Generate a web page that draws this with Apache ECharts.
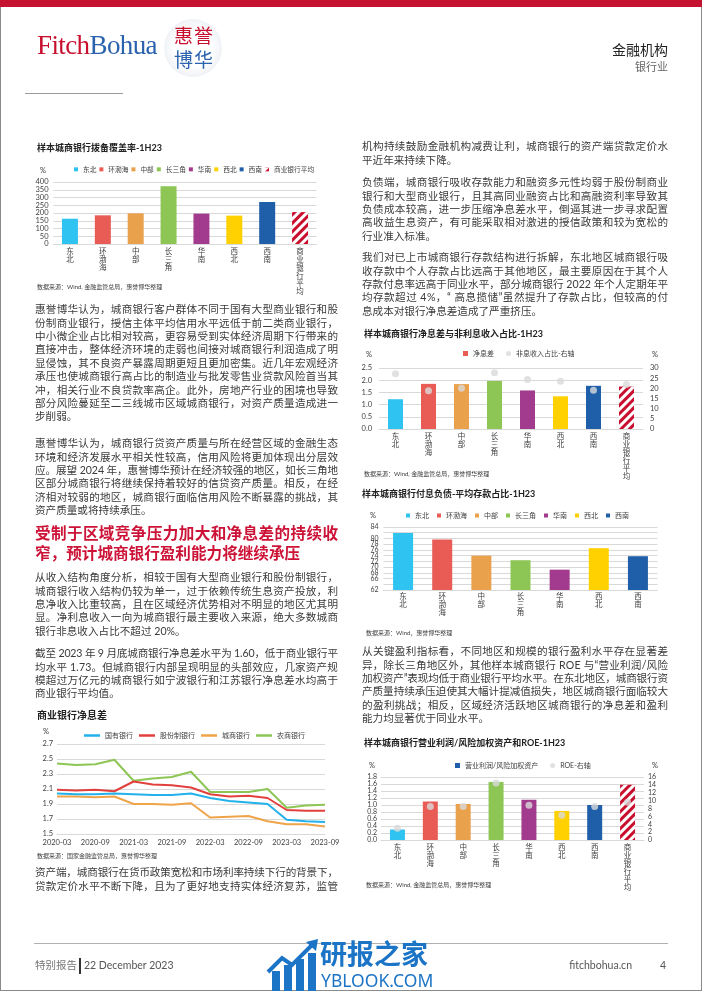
<!DOCTYPE html>
<html><head><meta charset="utf-8">
<script src="https://cdn.jsdelivr.net/npm/echarts/dist/echarts.min.js"></script>
<style>
html,body{margin:0;padding:0;background:#fff;}
#page{position:relative;width:702px;height:991px;overflow:hidden;background:#fff;font-family:Lato,"Noto Sans CJK SC",sans-serif;color:#3a3a3a;}
#chart{position:absolute;left:0;top:0;width:702px;height:991px;}
.a{position:absolute;white-space:nowrap;}
</style></head>
<body><div id="page">
<div id="chart"></div>
</div>
<script>
// ---------------- DATA ----------------
const regions = ['东北','环渤海','中部','长三角','华南','西北','西南'];
const regionsAvg = ['东北','环渤海','中部','长三角','华南','西北','西南','商业银行平均'];
const provisionCoverage = [163, 185, 198, 372, 196, 183, 271, 206];
const nimRegion = [1.22, 1.85, 1.84, 1.97, 1.58, 1.34, 1.77, 1.74];
const nonInterestShare = [27.2, 18.8, 20.1, 27.7, 24.3, 23.5, 19.1, 21.9];
const depositShare = [81.9, 79.6, 74.0, 72.4, 69.1, 76.6, 73.8];
const profitToRwa = [0.30, 1.10, 1.03, 1.66, 1.15, 0.83, 1.00, 1.58];
const roeRegion = [3.0, 8.5, 8.5, 14.5, 8.8, 6.3, 8.5, 9.6];
const quarters = ['2020-03','2020-06','2020-09','2020-12','2021-03','2021-06','2021-09','2021-12','2022-03','2022-06','2022-09','2022-12','2023-03','2023-06','2023-09'];
const nimState = [2.04,2.03,2.03,2.04,2.03,2.02,2.02,2.04,1.98,1.94,1.92,1.90,1.69,1.67,1.66];
const nimJoint = [2.09,2.08,2.09,2.07,2.20,2.16,2.15,2.12,2.03,2.00,2.01,1.98,1.82,1.81,1.81];
const nimCity  = [2.00,2.00,1.99,2.00,1.90,1.90,1.89,1.91,1.72,1.73,1.74,1.67,1.63,1.63,1.60];
const nimRural = [2.44,2.42,2.43,2.49,2.21,2.24,2.26,2.33,2.06,2.06,2.06,2.10,1.85,1.88,1.89];
const lineNames = ['国有银行','股份制银行','城商银行','农商银行'];

// ---------------- STYLE ----------------
const FONT = 'Lato, "Noto Sans CJK SC", sans-serif';
const regionColor = {'东北':'#2fc3f1','环渤海':'#e95b55','中部':'#e9a14c','长三角':'#8dc655','华南':'#a23b8d','西北':'#ffd100','西南':'#1f5ea9','商业银行平均':'#c8102e'};
const lineColors = ['#22b1ea','#e2403d','#f0a44a','#8dc655'];
const hatch = {symbol:'rect', symbolSize:1, color:'#ffffff', dashArrayX:[1,0], dashArrayY:[3,3], rotation:-Math.PI/4};
const TXT = '#3a3a3a';
const page = document.getElementById('page');

function box(css){const d=document.createElement('div');d.className='a';d.style.cssText+=css;page.appendChild(d);return d;}
function label(s,x,y,size,opt){opt=opt||{};
  const d=box(`left:${x}px;top:${y-size*0.65}px;font-size:${size}px;line-height:${size*1.3}px;color:${opt.color||TXT};font-weight:${opt.weight||400};`+(opt.css||''));
  d.textContent=s; if(opt.right){d.style.left='auto';d.style.right=(702-x)+'px';} return d;}
function para(lines,x,y0,pitch,w,size,opt){opt=opt||{};
  lines.forEach((s,i)=>{const d=label(s,x,y0+i*pitch,size,opt);
    if(i<lines.length-1||opt.justifyLast){const nat=d.getBoundingClientRect().width;const n=[...s].length;
      if(n>1)d.style.letterSpacing=((w-nat)/(n-1))+'px';}});}

// ---------------- HEADER / FOOTER ----------------
box('left:0;top:0;width:702px;height:991px;box-sizing:border-box;border:1px solid #8a8a8a;');
box('left:0;top:0;width:702px;height:7px;background:#c41230;');
const logo=box('left:37px;top:29px;font-family:"Liberation Serif",serif;font-size:27px;line-height:32px;letter-spacing:-0.6px;');
logo.innerHTML='<span style="color:#c8102e">Fitch</span><span style="color:#2a62ad">Bohua</span>';
box('left:164px;top:19px;width:58px;height:58px;border-radius:50%;background:radial-gradient(circle,#ffffff 45%,#dde3ec 100%);');
label('惠誉',174,36,19,{color:'#c8102e',css:'letter-spacing:1px;'});
label('博华',174,60,19,{color:'#2a62ad',css:'letter-spacing:1px;'});
label('金融机构',668,50,14,{color:'#222',right:true});
label('银行业',668,67,11,{color:'#666',right:true});
box('left:25px;top:93px;width:98px;height:1px;background:#9a9a9a;');
box('left:34px;top:943px;width:634px;height:1px;background:#b0b0b0;');
label('特别报告',35,966,10.5,{color:'#777'});
box('left:79px;top:958px;width:1.5px;height:16px;background:#333;');
label('22 December 2023',84,966,10.5,{color:'#555',css:'font-family:Lato,sans-serif;'});
label('fitchbohua.cn',632,966,10.5,{color:'#555',right:true,css:'font-family:Lato,sans-serif;'});
label('4',666,966,10.5,{color:'#555',right:true,css:'font-family:Lato,sans-serif;'});
// watermark
const wm=box('left:266px;top:938px;width:56px;height:53px;');
wm.innerHTML='<svg width="56" height="53"><g fill="#1b74c5"><rect x="6" y="33" width="8" height="20"/><rect x="18" y="27" width="8" height="26"/><rect x="30" y="21" width="8" height="32"/><rect x="42" y="15" width="8" height="38"/></g><polyline points="2,34 16,20 26,27 48,5" fill="none" stroke="#1b74c5" stroke-width="4"/><polygon points="52,1 40,4 50,13" fill="#1b74c5"/></svg>';
label('研报之家',320,953,27,{color:'#1b74c5',weight:700,css:'font-family:"Noto Sans CJK SC";'});
label('YBLOOK.COM',321,980,17.5,{color:'#1b74c5',css:'font-family:"Noto Sans","DejaVu Sans",sans-serif;'});

// ---------------- TEXT ----------------
const BS=10.6, P=13.4, LX=35, RX=362, W=303;
para(['惠誉博华认为，城商银行客户群体不同于国有大型商业银行和股','份制商业银行，授信主体平均信用水平远低于前二类商业银行，','中小微企业占比相对较高，更容易受到实体经济周期下行带来的','直接冲击，整体经济环境的走弱也间接对城商银行利润造成了明','显侵蚀，其不良资产暴露周期更短且更加密集。近几年宏观经济','承压也使城商银行高占比的制造业与批发零售业贷款风险首当其','冲，相关行业不良贷款率高企。此外，房地产行业的困境也导致','部分风险蔓延至二三线城市区域城商银行，对资产质量造成进一','步削弱。'],LX,310,P,W,BS);
para(['惠誉博华认为，城商银行贷资产质量与所在经营区域的金融生态','环境和经济发展水平相关性较高，信用风险将更加体现出分层效','应。展望 2024 年，惠誉博华预计在经济较强的地区，如长三角地','区部分城商银行将继续保持着较好的信贷资产质量。相反，在经','济相对较弱的地区，城商银行面临信用风险不断暴露的挑战，其','资产质量或将持续承压。'],LX,444,P,W,BS);
para(['受制于区域竞争压力加大和净息差的持续收','窄，预计城商银行盈利能力将继续承压'],LX,533,20.5,W,15.6,{color:'#cc1236',weight:700});
para(['从收入结构角度分析，相较于国有大型商业银行和股份制银行，','城商银行收入结构仍较为单一，过于依赖传统生息资产投放，利','息净收入比重较高，且在区域经济优势相对不明显的地区尤其明','显。净利息收入一向为城商银行最主要收入来源，绝大多数城商','银行非息收入占比不超过 20%。'],LX,578,P,W,BS);
para(['截至 2023 年 9 月底城商银行净息差水平为 1.60，低于商业银行平','均水平  1.73。但城商银行内部呈现明显的头部效应，几家资产规','模超过万亿元的城商银行如宁波银行和江苏银行净息差水均高于','商业银行平均值。'],LX,654,P,W,BS);
para(['资产端，城商银行在货币政策宽松和市场利率持续下行的背景下，','贷款定价水平不断下降，且为了更好地支持实体经济复苏，监管'],LX,873,P,W,BS,{justifyLast:true});
para(['机构持续鼓励金融机构减费让利，城商银行的资产端贷款定价水','平近年来持续下降。'],RX,147,P,W+3,BS);
para(['负债端，城商银行吸收存款能力和融资多元性均弱于股份制商业','银行和大型商业银行，且其高同业融资占比和高融资利率导致其','负债成本较高，进一步压缩净息差水平，倒逼其进一步寻求配置','高收益生息资产，有可能采取相对激进的授信政策和较为宽松的','行业准入标准。'],RX,183,P,W+3,BS);
para(['我们对已上市城商银行存款结构进行拆解，东北地区城商银行吸','收存款中个人存款占比远高于其他地区，最主要原因在于其个人','存款付息率远高于同业水平，部分城商银行 2022 年个人定期年平','均存款超过 4%，“ 高息揽储”虽然提升了存款占比，但较高的付','息成本对银行净息差造成了严重挤压。'],RX,258,P,W+3,BS);
para(['从关键盈利指标看，不同地区和规模的银行盈利水平存在显著差','异，除长三角地区外，其他样本城商银行 ROE 与“营业利润/风险','加权资产”表现均低于商业银行平均水平。在东北地区，城商银行资','产质量持续承压迫使其大幅计提减值损失，地区城商银行面临较大','的盈利挑战；相反，区域经济活跃地区城商银行的净息差和盈利','能力均显著优于同业水平。'],RX,652,P,W+3,BS);

// chart titles / sources / units
const TS=9;
label('样本城商银行拨备覆盖率-1H23',37,148,TS,{weight:700,color:'#222'});
label('商业银行净息差',37,715,10,{weight:700,color:'#222'});
label('样本城商银行净息差与非利息收入占比-1H23',364,334,TS,{weight:700,color:'#222'});
label('样本城商银行付息负债-平均存款占比-1H23',362,494,TS,{weight:700,color:'#222'});
label('样本城商银行营业利润/风险加权资产和ROE-1H23',364,743,TS,{weight:700,color:'#222'});
const SS=6;
label('数据来源：Wind, 金融监管总局，惠誉博华整理',37,287,SS);
label('数据来源：国家金融监管总局，惠誉博华整理',37,856,SS);
label('数据来源：Wind, 金融监管总局，惠誉博华整理',364,474,SS);
label('数据来源：Wind，惠誉博华整理',366,633,SS);
label('数据来源：Wind, 金融监管总局，惠誉博华整理',366,885,SS);
[[40,171],[43,732],[366,355],[652,355],[370,516],[369,766],[652,766]].forEach(p=>label('%',p[0],p[1],7.5));

// ---------------- ECHARTS ----------------
const axTxt = {fontSize:7.5, color:'#404040', fontFamily:FONT, showMinLabel:true, showMaxLabel:true, hideOverlap:false};
const split = {show:true, lineStyle:{color:'#d9d9d9', width:1}};
const vert = v => v.split('').join('\n');
function catAxis(gi, data, margin){return {type:'category', gridIndex:gi, data, axisTick:{show:false},
  axisLine:{show:true,lineStyle:{color:'#d9d9d9'}}, axisLabel:Object.assign({},axTxt,{interval:0,formatter:vert,lineHeight:8,margin})};}
function valAxis(gi,min,max,interval,dec,opt){opt=opt||{};return Object.assign({type:'value',gridIndex:gi,min,max,interval,
  axisLine:{show:false},axisTick:{show:false},splitLine:opt.noSplit?{show:false}:split,
  axisLabel:Object.assign({},axTxt,{margin:opt.margin||5,fontSize:opt.fs||7.5,formatter:v=>v.toFixed(dec)})},opt.pos?{position:opt.pos}:{});}
const lg = (o)=>Object.assign({selectedMode:false,itemWidth:4,itemHeight:4,icon:'rect',textStyle:{fontSize:7,color:'#404040',fontFamily:FONT}},o);

const series=[];
regionsAvg.forEach((r,i)=>{
  series.push({type:'bar',name:r,xAxisIndex:0,yAxisIndex:0,stack:'c1',barWidth:16,
    data:regionsAvg.map((_,j)=>j===i?provisionCoverage[j]:'-'),
    itemStyle:r==='商业银行平均'?{color:regionColor[r],decal:hatch}:{color:regionColor[r]}});
});
[nimState,nimJoint,nimCity,nimRural].forEach((d,i)=>{
  series.push({type:'line',name:lineNames[i],xAxisIndex:1,yAxisIndex:1,data:d,symbol:'none',
    lineStyle:{width:2,color:lineColors[i]},itemStyle:{color:lineColors[i]},z:10-i});
});
const itemC = regionsAvg.map(r=>r==='商业银行平均'?{color:regionColor[r],decal:hatch}:{color:regionColor[r]});
series.push({type:'bar',name:'净息差',xAxisIndex:2,yAxisIndex:2,barWidth:15,itemStyle:{color:'#e95b55'},
  data:nimRegion.map((v,i)=>({value:v,itemStyle:itemC[i]}))});
series.push({type:'scatter',name:'非息收入占比-右轴',xAxisIndex:2,yAxisIndex:3,symbol:'circle',symbolSize:7,
  itemStyle:{color:'#dadada'},data:nonInterestShare,z:5});
regions.forEach((r,i)=>{
  series.push({type:'bar',name:r,xAxisIndex:3,yAxisIndex:4,stack:'c4',barWidth:20,
    data:regions.map((_,j)=>j===i?depositShare[j]:'-'),itemStyle:{color:regionColor[r]}});
});
series.push({type:'bar',name:'营业利润/风险加权资产',xAxisIndex:4,yAxisIndex:5,barWidth:15,itemStyle:{color:'#1f5ea9'},
  data:profitToRwa.map((v,i)=>({value:v,itemStyle:itemC[i]}))});
series.push({type:'scatter',name:'ROE-右轴',xAxisIndex:4,yAxisIndex:6,symbol:'circle',symbolSize:7,
  itemStyle:{color:'#dadada'},data:roeRegion,z:5});

const G = {containLabel:false,outerBoundsMode:'none'};
const option={
  animation:false,
  textStyle:{fontFamily:FONT},
  grid:[
    Object.assign({left:53.5,top:182,width:263,height:62},G),
    Object.assign({left:57,top:744,width:268,height:90},G),
    Object.assign({left:379,top:368,width:264,height:61},G),
    Object.assign({left:383.5,top:527,width:274,height:63},G),
    Object.assign({left:381,top:777,width:263,height:63},G)
  ],
  xAxis:[
    catAxis(0,regionsAvg,4),
    {type:'category',gridIndex:1,data:quarters,boundaryGap:false,axisTick:{show:false},
      axisLine:{show:true,lineStyle:{color:'#d9d9d9'}},axisLabel:Object.assign({},axTxt,{interval:1,margin:5})},
    catAxis(2,regionsAvg,4),
    catAxis(3,regions,3),
    catAxis(4,regionsAvg,4)
  ],
  yAxis:[
    valAxis(0,0,400,50,0,{margin:5}),
    valAxis(1,1.5,2.7,0.2,1,{margin:4}),
    valAxis(2,0,2.5,0.5,1,{margin:7}),
    valAxis(2,0,30,5,0,{noSplit:true,pos:'right',margin:7}),
    valAxis(3,62,84,2,0,{margin:5,fs:7}),
    valAxis(4,0,1.8,0.2,1,{margin:4,fs:7}),
    valAxis(4,0,16,2,0,{noSplit:true,pos:'right',margin:4,fs:7})
  ],
  legend:[
    lg({left:69,top:161,itemGap:3,data:regionsAvg,textStyle:{fontSize:6.7,color:'#404040',fontFamily:FONT}}),
    lg({left:79,top:727,itemWidth:16,itemHeight:2.5,itemGap:6,data:lineNames}),
    lg({left:458,top:345,itemGap:12,itemWidth:5,itemHeight:5,data:[{name:'净息差',icon:'rect'},{name:'非息收入占比-右轴',icon:'circle'}]}),
    lg({left:401,top:507,itemGap:8,data:regions}),
    lg({left:450,top:757,itemGap:12,itemWidth:5,itemHeight:5,data:[{name:'营业利润/风险加权资产',icon:'rect'},{name:'ROE-右轴',icon:'circle'}]})
  ],
  series
};
const chart=echarts.init(document.getElementById('chart'),null,{renderer:'canvas'});
chart.setOption(option);
</script>
</body></html>
